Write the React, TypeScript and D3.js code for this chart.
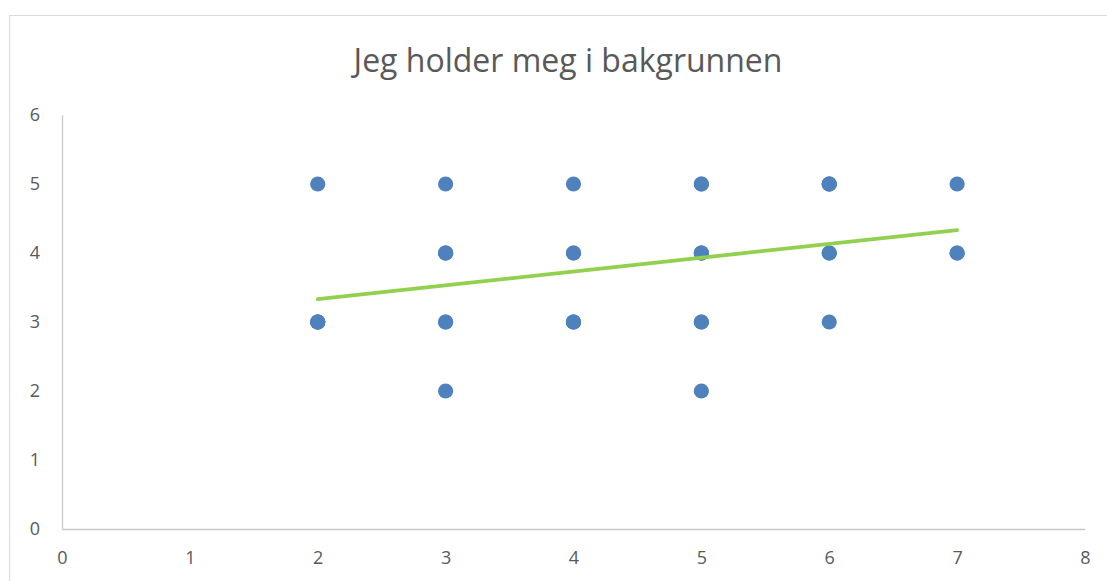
import React, { useEffect, useRef } from 'react';
import * as d3 from 'd3';

const chartTitle = 'Jeg holder meg i bakgrunnen';

// answers: x = one statement score, y = "Jeg holder meg i bakgrunnen" score
const xValues = [
    2, 2, 2, 2, 2,
    3, 3, 3, 3, 3, 3, 3,
    4, 4, 4, 4, 4, 4,
    5, 5, 5, 5, 5, 5, 5, 5,
    6, 6, 6, 6, 6, 6,
    7, 7, 7,
];
const yValues = [
    5, 3, 3, 3, 3,
    5, 4, 4, 4, 3, 3, 2,
    5, 4, 4, 3, 3, 3,
    5, 5, 4, 4, 4, 3, 3, 2,
    5, 5, 5, 4, 4, 3,
    5, 4, 4,
];

const xTicks = [0, 1, 2, 3, 4, 5, 6, 7, 8];
const yTicks = [0, 1, 2, 3, 4, 5, 6];

const App = () => {
    const chartRef = useRef<SVGSVGElement | null>(null);

    useEffect(() => {
        const width = 1107;
        const height = 581;
        const plot = { left: 62, right: 1085, top: 115, bottom: 529 };

        const svg = d3.select(chartRef.current);
        svg.selectAll('*').remove();

        const font = '"Open Sans", "Noto Sans", sans-serif';

        // chart area border
        svg
            .append('rect')
            .attr('x', 9.5)
            .attr('y', 15.5)
            .attr('width', width + 20)
            .attr('height', height + 20)
            .attr('fill', 'white')
            .attr('stroke', '#d9d9d9')
            .attr('stroke-width', 1);

        const x = d3.scaleLinear().domain([0, 8]).range([plot.left, plot.right]);
        const y = d3.scaleLinear().domain([0, 6]).range([plot.bottom, plot.top]);

        // title
        svg
            .append('text')
            .attr('x', 568)
            .attr('y', 72)
            .attr('text-anchor', 'middle')
            .attr('font-family', font)
            .attr('font-size', 32)
            .attr('fill', '#595959')
            .text(chartTitle);

        // axes
        const xAxis = svg
            .append('g')
            .attr('transform', `translate(0, ${plot.bottom})`)
            .call(d3.axisBottom(x).tickValues(xTicks).tickFormat(d3.format('d')).tickSize(0).tickPadding(22));
        const yAxis = svg
            .append('g')
            .attr('transform', `translate(${plot.left}, 0)`)
            .call(d3.axisLeft(y).tickValues(yTicks).tickFormat(d3.format('d')).tickSize(0).tickPadding(22));

        [xAxis, yAxis].forEach((g) => {
            g.attr('font-size', null).attr('font-family', null);
            g.select('.domain').attr('stroke', '#c8c8c8').attr('stroke-width', 1.3);
            g.selectAll('text')
                .attr('font-family', font)
                .attr('font-size', 18)
                .attr('fill', '#595959');
        });

        // points
        const points = xValues.map((v, i) => ({ x: v, y: yValues[i] }));
        svg
            .append('g')
            .selectAll('circle')
            .data(points)
            .enter()
            .append('circle')
            .attr('cx', (d) => x(d.x))
            .attr('cy', (d) => y(d.y))
            .attr('r', 7.6)
            .attr('fill', '#4f81bd');

        // linear trendline (least squares)
        const mx = d3.mean(xValues) as number;
        const my = d3.mean(yValues) as number;
        const sxy = d3.sum(points, (d) => (d.x - mx) * (d.y - my));
        const sxx = d3.sum(points, (d) => (d.x - mx) * (d.x - mx));
        const slope = sxy / sxx;
        const intercept = my - slope * mx;
        const [x0, x1] = d3.extent(xValues) as [number, number];
        const trend = [x0, x1].map((v) => [v, intercept + slope * v] as [number, number]);

        svg
            .append('path')
            .datum(trend)
            .attr('d', d3.line().x((d) => x(d[0])).y((d) => y(d[1])))
            .attr('fill', 'none')
            .attr('stroke', '#92d050')
            .attr('stroke-width', 3.8)
            .attr('stroke-linecap', 'round');
    }, []);

    return (
        <div style={{ position: 'absolute', left: 0, top: 0 }}>
            <svg ref={chartRef} width={1107} height={581} style={{ display: 'block' }}></svg>
        </div>
    );
};

export default App;
